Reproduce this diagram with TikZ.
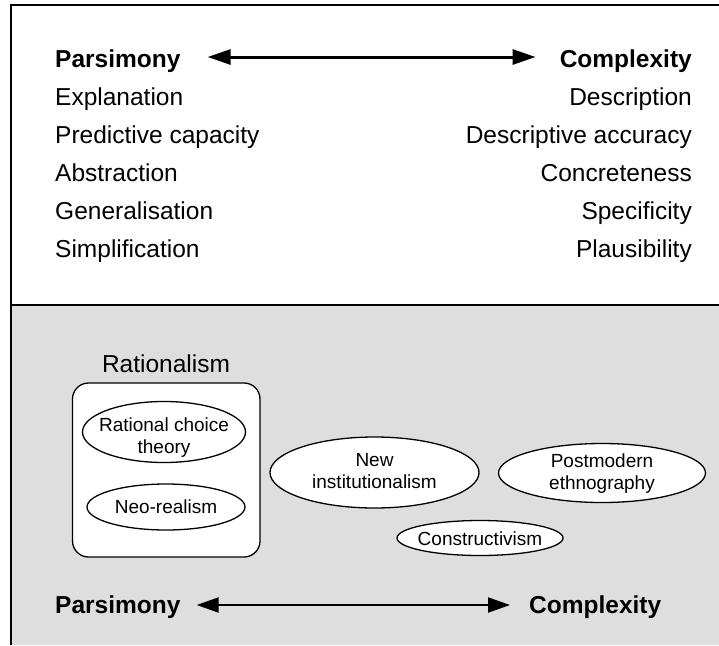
\documentclass[tikz,border=0pt]{standalone}
\usepackage{fontspec}
\setmainfont{Liberation Sans}
\usetikzlibrary{arrows.meta,shapes.geometric}
\definecolor{panelgray}{RGB}{222,222,222}
\begin{document}
\begin{tikzpicture}[x=1pt,y=-1pt,
  bigfont/.style={font=\fontsize{24.5}{29}\selectfont},
  lefttxt/.style={bigfont,anchor=base west,inner sep=0pt},
  righttxt/.style={bigfont,anchor=base east,inner sep=0pt},
  heading/.style={font=\fontsize{24.5}{29}\selectfont\bfseries},
  school/.style={ellipse,draw,fill=white,line width=1.3pt,inner sep=0pt},
  schooltxt/.style={inner sep=0pt,align=center,font=\fontsize{19}{22}\selectfont},
  topaxis/.style={line width=3pt,{Triangle[length=23pt,width=15pt]}-{Triangle[length=23pt,width=15pt]}},
  lowaxis/.style={line width=2pt,{Triangle[length=22pt,width=15pt]}-{Triangle[length=22pt,width=15pt]}},
]
\useasboundingbox (0,0) rectangle (719,645);

% panels
\fill[panelgray] (11,305) rectangle (719,645);
\draw[line width=2pt] (11,645) -- (11,5) -- (719,5);
\draw[line width=2.2pt] (10,305) -- (719,305);

% upper panel: the two poles and their qualities
\node[lefttxt,heading] (p1) at (55,67) {Parsimony};
\node[righttxt,heading] (c1) at (692,67) {Complexity};
\draw[topaxis] ([xshift=27pt,yshift=10pt]p1.base east) -- ([xshift=-24pt,yshift=10pt]c1.base west);

\node[lefttxt] (l1) at (55,105) {Explanation};
\node[lefttxt] (l2) at (55,143) {Predictive capacity};
\node[lefttxt] (l3) at (55,181) {Abstraction};
\node[lefttxt] (l4) at (55,219) {Generalisation};
\node[lefttxt] (l5) at (55,257) {Simplification};

\node[righttxt] (r1) at (692,105) {Description};
\node[righttxt] (r2) at (692,143) {Descriptive accuracy};
\node[righttxt] (r3) at (692,181) {Concreteness};
\node[righttxt] (r4) at (692,219) {Specificity};
\node[righttxt] (r5) at (692,257) {Plausibility};

% lower panel: approaches placed along the axis
\node[bigfont,anchor=base,inner sep=0pt] (ratlabel) at (166,372) {Rationalism};
\node[draw,fill=white,line width=1.3pt,rounded corners=16pt,
      minimum width=187.5pt,minimum height=174pt] (ratbox) at (166.25,470) {};

\node[school,minimum width=163pt,minimum height=61pt] (rc) at (164,432) {};
\node[schooltxt] (rctxt) at (164,437.5) {Rational choice\\theory};

\node[school,minimum width=158pt,minimum height=46pt] (nr) at (166,507) {};
\node[schooltxt] (nrtxt) at (166,506.5) {Neo-realism};

\node[school,minimum width=209pt,minimum height=71pt] (ni) at (374.5,472.5) {};
\node[schooltxt] (nitxt) at (374.5,471.5) {New\\institutionalism};

\node[school,minimum width=207pt,minimum height=59pt] (pe) at (602,473) {};
\node[schooltxt] (petxt) at (602,474) {Postmodern\\ethnography};

\node[school,minimum width=166pt,minimum height=35pt] (co) at (480,538) {};
\node[schooltxt] (cotxt) at (480,538.5) {Constructivism};

\node[lefttxt,heading] (p2) at (55,613) {Parsimony};
\node[lefttxt,heading] (c2) at (529,613) {Complexity};
\draw[lowaxis] ([xshift=16pt,yshift=8pt]p2.base east) -- ([xshift=-19pt,yshift=8pt]c2.base west);
\end{tikzpicture}
\end{document}
